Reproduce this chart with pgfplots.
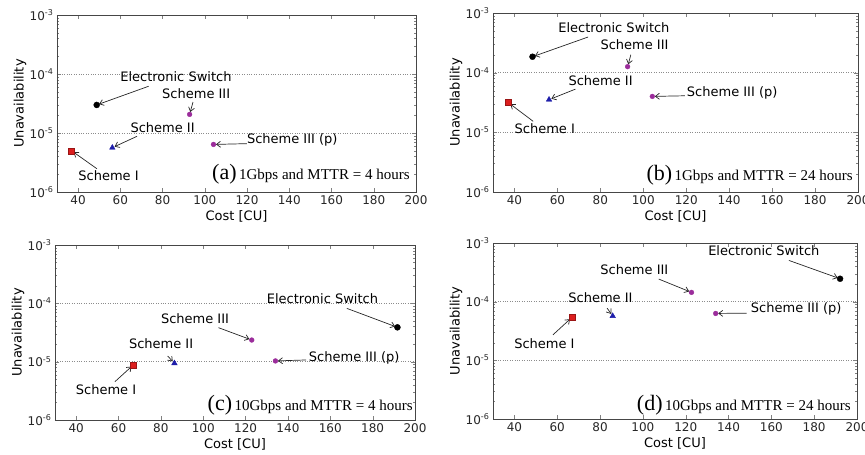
\documentclass[border=0pt]{standalone}
\usepackage{fontspec}
\setmainfont{DejaVu Sans}
\newfontfamily\timesfont{Liberation Serif}
\usepackage{pgfplots}
\pgfplotsset{compat=1.18}
\usetikzlibrary{arrows.meta}
\definecolor{cRed}{RGB}{220,30,30}
\definecolor{cBlue}{RGB}{30,30,170}
\definecolor{cPurp}{RGB}{155,45,155}
\definecolor{cFrame}{RGB}{70,70,70}
\tikzset{
  annfont/.style={font=\fontsize{13}{13}\selectfont, inner sep=1pt},
  arr/.style={-{Straight Barb[length=4pt,width=6pt]}, line width=0.7pt, black!85, shorten >=2.5pt}
}
\newcommand{\ann}[7]{\node[annfont] at (axis cs:#1,#2) {#3}; \draw[arr] (axis cs:#4,#5) -- (axis cs:#6,#7);}
\newcommand{\plab}[2]{{\timesfont\fontsize{22}{22}\selectfont (#1)}{\timesfont\fontsize{15}{15}\selectfont\,#2}}
\pgfplotsset{
  every axis/.append style={
    scale only axis, clip=false,
    xmin=30, xmax=200, ymin=1e-6, ymax=1e-3,
    xtick={40,60,80,100,120,140,160,180,200},
    xticklabels={40,60,80,100,120,140,160,180,200},
    ytick={1e-6,1e-5,1e-4,1e-3},
    minor ytick={2e-6,3e-6,4e-6,5e-6,6e-6,7e-6,8e-6,9e-6,2e-5,3e-5,4e-5,5e-5,6e-5,7e-5,8e-5,9e-5,2e-4,3e-4,4e-4,5e-4,6e-4,7e-4,8e-4,9e-4},
    yticklabels={{10\textsuperscript{-6}},{10\textsuperscript{-5}},{10\textsuperscript{-4}},{10\textsuperscript{-3}}},
    ymajorgrids, major grid style={dotted, gray!90, line width=0.9pt},
    tick label style={font=\fontsize{12}{12}\selectfont, text=black!85},
    xlabel={Cost [CU]}, ylabel={Unavailability},
    xlabel style={at={(axis description cs:0.5,0)}, anchor=center, yshift=-24pt, font=\fontsize{13}{13}\selectfont},
    ylabel style={at={(axis description cs:0,0.5)}, anchor=center, yshift=37pt, font=\fontsize{13}{13}\selectfont},
    axis line style={cFrame, line width=0.9pt},
    major tick length=4pt, minor tick length=2pt,
  },
  sI/.style={only marks, mark=square*, mark size=3pt, mark options={fill=cRed, draw=cRed!70!black}},
  sII/.style={only marks, mark=triangle*, mark size=3.2pt, mark options={fill=cBlue, draw=cBlue}},
  sES/.style={only marks, mark=*, mark size=3pt, mark options={fill=black, draw=black}},
  sIII/.style={only marks, mark=*, mark size=2.4pt, mark options={fill=cPurp, draw=cPurp}},
}
\begin{document}
\begin{tikzpicture}
\path[use as bounding box] (0pt,0pt) rectangle (865pt,-455pt);
% (a)
\begin{axis}[ymode=log, anchor=north west, at={(57pt,-15pt)}, width=359pt, height=177pt]
\addplot[sI] coordinates {(36.9,5.0e-6)};
\addplot[sII] coordinates {(56.2,5.64e-6)};
\addplot[sES] coordinates {(48.8,2.99e-5)};
\addplot[sIII] coordinates {(92.8,2.07e-5) (104.1,6.4e-6)};
\ann{86.3}{8.9e-5}{Electronic Switch}{73.4}{6.2e-5}{48.8}{2.99e-5}
\ann{95.9}{4.6e-5}{Scheme III}{94.4}{3.35e-5}{92.8}{2.07e-5}
\ann{80}{1.22e-5}{Scheme II}{67.9}{8.8e-6}{56.2}{5.64e-6}
\ann{54.4}{1.87e-6}{Scheme I}{48.9}{2.48e-6}{36.9}{5.0e-6}
\ann{141.4}{7.5e-6}{Scheme III (p)}{119.9}{6.6e-6}{104.1}{6.4e-6}
\node[anchor=base east, inner sep=0pt] at (axis description cs:0.983,0.068) {\plab{a}{1Gbps and MTTR = 4 hours}};
\end{axis}
% (b)
\begin{axis}[ymode=log, anchor=north west, at={(493pt,-13pt)}, width=365pt, height=179pt]
\addplot[sI] coordinates {(37.2,3.14e-5)};
\addplot[sII] coordinates {(56.1,3.53e-5)};
\addplot[sES] coordinates {(48.4,1.85e-4)};
\addplot[sIII] coordinates {(92.7,1.26e-4) (104.2,4.0e-5)};
\ann{86.3}{5.6e-4}{Electronic Switch}{74.3}{3.96e-4}{48.4}{1.85e-4}
\ann{95.9}{3.0e-4}{Scheme III}{94.2}{2.0e-4}{92.7}{1.26e-4}
\ann{80.1}{7.3e-5}{Scheme II}{68.4}{5.3e-5}{56.1}{3.53e-5}
\ann{54.1}{1.14e-5}{Scheme I}{48.7}{1.53e-5}{37.2}{3.14e-5}
\ann{141.4}{4.6e-5}{Scheme III (p)}{119.4}{4.1e-5}{104.2}{4.0e-5}
\node[anchor=base east, inner sep=0pt] at (axis description cs:0.986,0.067) {\plab{b}{1Gbps and MTTR = 24 hours}};
\end{axis}
% (c)
\begin{axis}[ymode=log, anchor=north west, at={(55pt,-245pt)}, width=360pt, height=175pt]
\addplot[sI] coordinates {(67.0,8.8e-6)};
\addplot[sII] coordinates {(86.4,9.4e-6)};
\addplot[sES] coordinates {(191.7,3.88e-5)};
\addplot[sIII] coordinates {(122.9,2.35e-5) (134.1,1.03e-5)};
\ann{156.3}{1.19e-4}{Electronic Switch}{167.8}{8.2e-5}{191.7}{3.88e-5}
\ann{96.1}{5.53e-5}{Scheme III}{107.2}{3.83e-5}{122.9}{2.35e-5}
\ann{80.1}{2.0e-5}{Scheme II}{83.2}{1.25e-5}{86.4}{9.4e-6}
\ann{54.1}{3.27e-6}{Scheme I}{58.3}{4.54e-6}{67.0}{8.8e-6}
\ann{171.3}{1.17e-5}{Scheme III (p)}{148.6}{1.07e-5}{134.1}{1.03e-5}
\node[anchor=base east, inner sep=0pt] at (axis description cs:0.994,0.057) {\plab{c}{10Gbps and MTTR = 4 hours}};
\end{axis}
% (d)
\begin{axis}[ymode=log, anchor=north west, at={(493pt,-243pt)}, width=364pt, height=176pt]
\addplot[sI] coordinates {(66.8,5.37e-5)};
\addplot[sII] coordinates {(85.9,5.7e-5)};
\addplot[sES] coordinates {(192.1,2.46e-4)};
\addplot[sIII] coordinates {(122.7,1.44e-4) (134.0,6.3e-5)};
\ann{156.5}{7.48e-4}{Electronic Switch}{168.2}{5.05e-4}{192.1}{2.46e-4}
\ann{96.0}{3.5e-4}{Scheme III}{107.4}{2.43e-4}{122.7}{1.44e-4}
\ann{80.2}{1.19e-4}{Scheme II}{83.3}{7.76e-5}{85.9}{5.7e-5}
\ann{54.0}{1.96e-5}{Scheme I}{58.0}{2.72e-5}{66.8}{5.37e-5}
\ann{171.6}{7.46e-5}{Scheme III (p)}{148.4}{6.37e-5}{134.0}{6.3e-5}
\node[anchor=base east, inner sep=0pt] at (axis description cs:0.983,0.051) {\plab{d}{10Gbps and MTTR = 24 hours}};
\end{axis}
\end{tikzpicture}
\end{document}
